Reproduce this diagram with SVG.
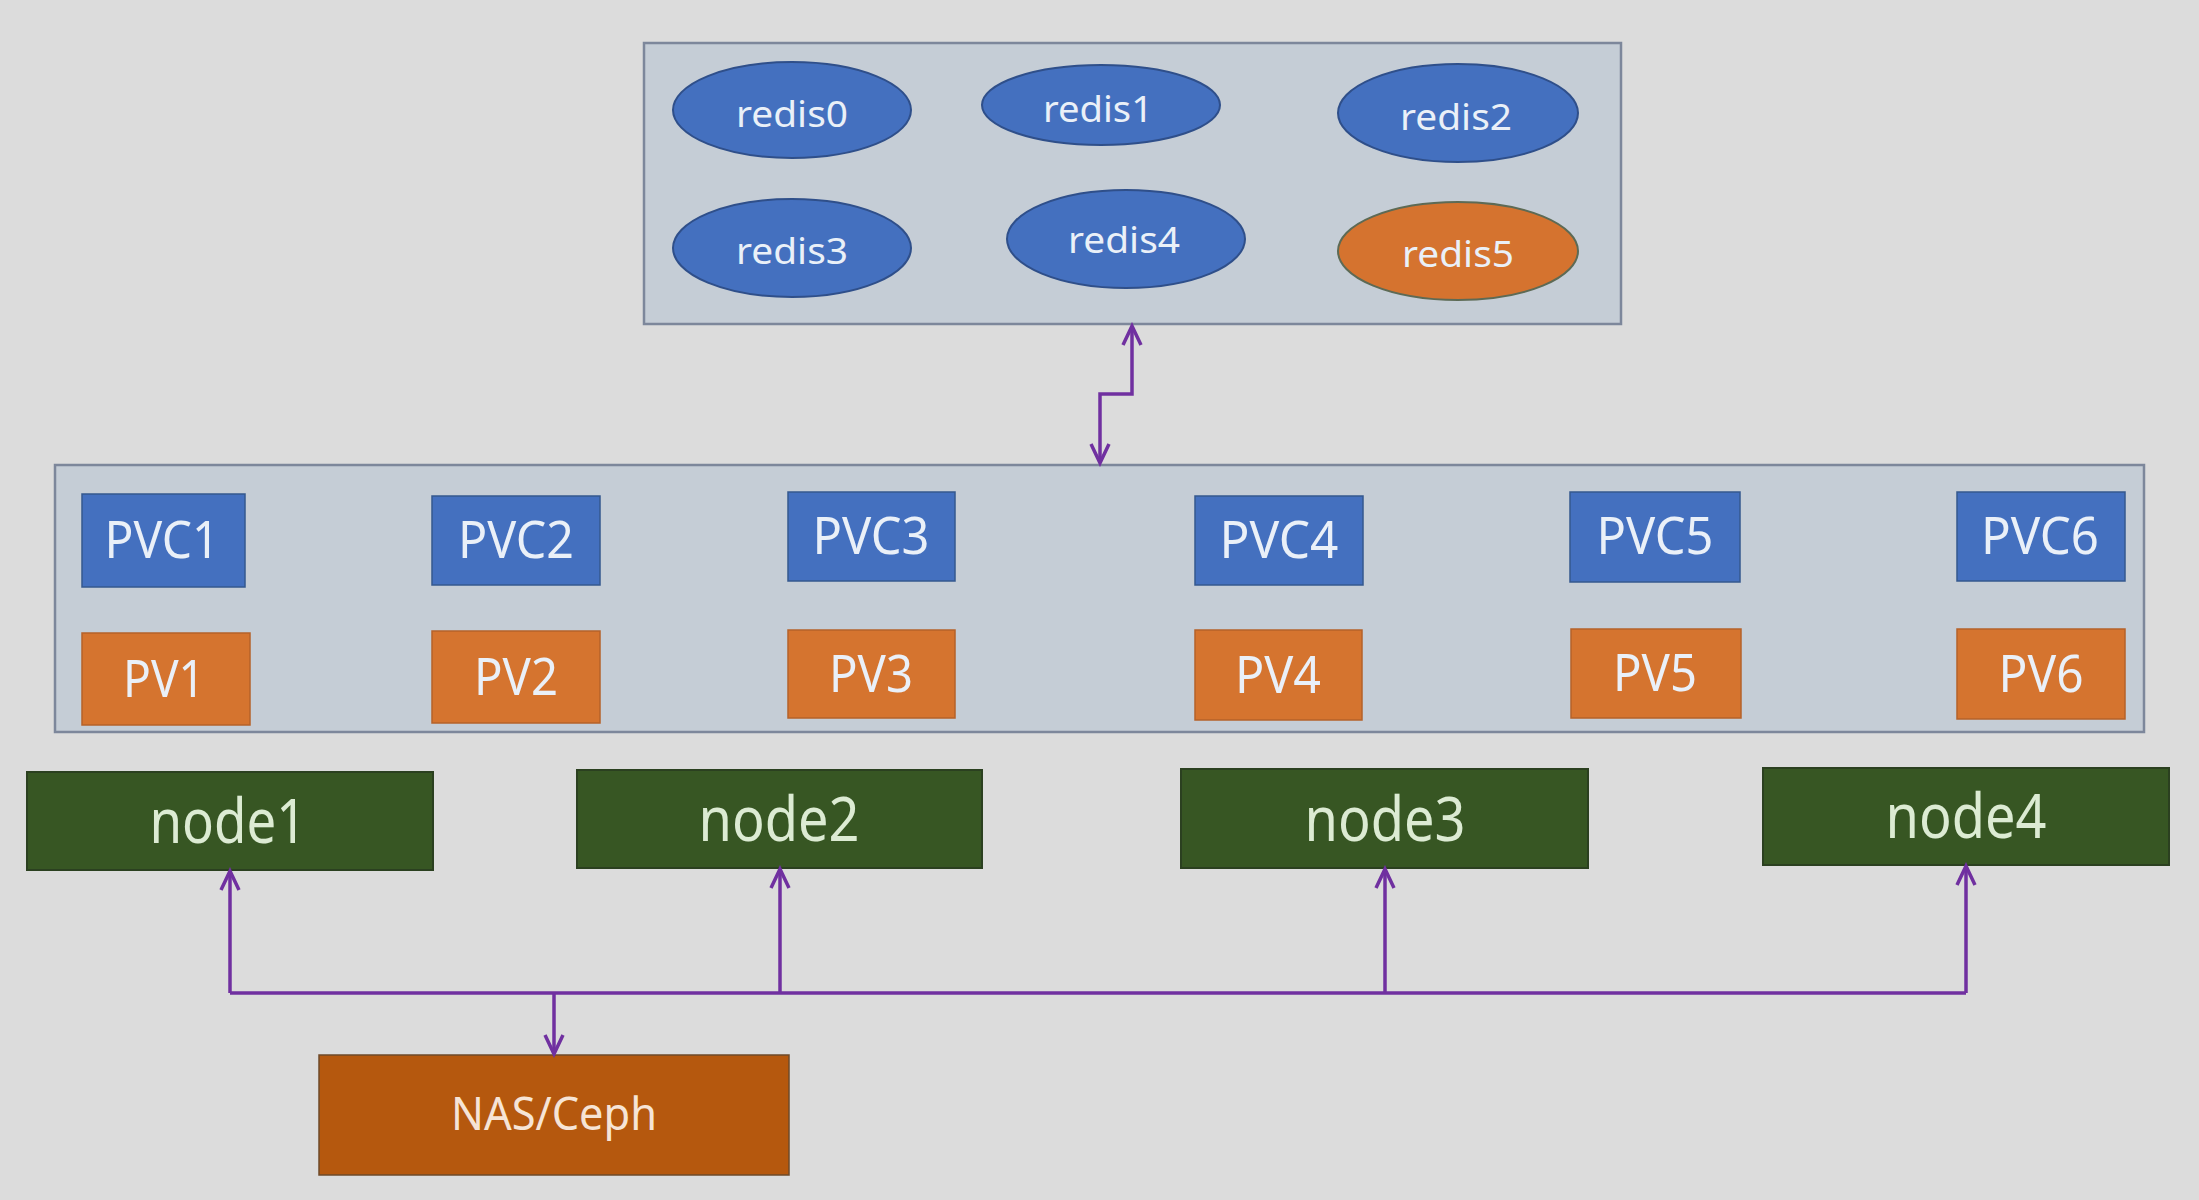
<svg xmlns="http://www.w3.org/2000/svg" width="2199" height="1200" viewBox="0 0 2199 1200">
  <defs>
    <style>
      .bg { fill: #dcdcdc; }
      .panel { fill: #c5cdd6; stroke: #7d879b; stroke-width: 2.5; }
      .redis { fill: #4470bf; stroke: #2f4f8a; stroke-width: 2; }
      .redis-alt { fill: #d5732f; stroke: #5d6a55; stroke-width: 2; }
      .pvc { fill: #4470bf; stroke: #34588f; stroke-width: 1.5; }
      .pv { fill: #d5742f; stroke: #b5622a; stroke-width: 1.5; }
      .node { fill: #375623; stroke: #2b4020; stroke-width: 2; }
      .store { fill: #b5580e; stroke: #6e4a2a; stroke-width: 1.5; }
      .lbl { font-family: "Noto Sans", "Liberation Sans", sans-serif; text-anchor: middle; fill: #eaf0f8; }
      .lbl-redis { font-size: 37px; }
      .lbl-vol { font-size: 51px; }
      .lbl-node { font-size: 62px; fill: #dcebd3; }
      .lbl-store { font-size: 45px; fill: #f6e4d6; }
      .wire { fill: none; stroke: #7030a0; stroke-width: 3.5; stroke-linejoin: miter; }
    </style>
    <marker id="arrow" markerUnits="userSpaceOnUse" markerWidth="26" markerHeight="26" viewBox="0 0 26 26" refX="22" refY="13" orient="auto-start-reverse">
      <path d="M3,4 L22,13 L3,22" fill="none" stroke="#7030a0" stroke-width="3.5"/>
    </marker>
  </defs>

  <rect class="bg" x="0" y="0" width="2199" height="1200"/>

  <!-- Redis pod group -->
  <g id="redis-cluster">
    <rect class="panel" x="644" y="43" width="977" height="281"/>
    <g id="redis0">
      <ellipse class="redis" cx="792" cy="110" rx="119" ry="48"/>
      <text class="lbl lbl-redis" x="792" y="127" textLength="112" lengthAdjust="spacingAndGlyphs">redis0</text>
    </g>
    <g id="redis1">
      <ellipse class="redis" cx="1101" cy="105" rx="119" ry="40"/>
      <text class="lbl lbl-redis" x="1098" y="122" textLength="110" lengthAdjust="spacingAndGlyphs">redis1</text>
    </g>
    <g id="redis2">
      <ellipse class="redis" cx="1458" cy="113" rx="120" ry="49"/>
      <text class="lbl lbl-redis" x="1456" y="130" textLength="112" lengthAdjust="spacingAndGlyphs">redis2</text>
    </g>
    <g id="redis3">
      <ellipse class="redis" cx="792" cy="248" rx="119" ry="49"/>
      <text class="lbl lbl-redis" x="792" y="264" textLength="112" lengthAdjust="spacingAndGlyphs">redis3</text>
    </g>
    <g id="redis4">
      <ellipse class="redis" cx="1126" cy="239" rx="119" ry="49"/>
      <text class="lbl lbl-redis" x="1124" y="253" textLength="112" lengthAdjust="spacingAndGlyphs">redis4</text>
    </g>
    <g id="redis5">
      <ellipse class="redis-alt" cx="1458" cy="251" rx="120" ry="49"/>
      <text class="lbl lbl-redis" x="1458" y="267" textLength="112" lengthAdjust="spacingAndGlyphs">redis5</text>
    </g>
  </g>

  <!-- Claims and volumes -->
  <g id="storage-layer">
    <rect class="panel" x="55" y="465" width="2089" height="267"/>
    <g id="pvc1">
      <rect class="pvc" x="82" y="494" width="163" height="93"/>
      <text class="lbl lbl-vol" x="162" y="558" textLength="115" lengthAdjust="spacingAndGlyphs">PVC1</text>
    </g>
    <g id="pv1">
      <rect class="pv" x="82" y="633" width="168" height="92"/>
      <text class="lbl lbl-vol" x="164" y="697" textLength="82" lengthAdjust="spacingAndGlyphs">PV1</text>
    </g>
    <g id="pvc2">
      <rect class="pvc" x="432" y="496" width="168" height="89"/>
      <text class="lbl lbl-vol" x="516" y="558" textLength="116" lengthAdjust="spacingAndGlyphs">PVC2</text>
    </g>
    <g id="pv2">
      <rect class="pv" x="432" y="631" width="168" height="92"/>
      <text class="lbl lbl-vol" x="516" y="695" textLength="84" lengthAdjust="spacingAndGlyphs">PV2</text>
    </g>
    <g id="pvc3">
      <rect class="pvc" x="788" y="492" width="167" height="89"/>
      <text class="lbl lbl-vol" x="871" y="554" textLength="117" lengthAdjust="spacingAndGlyphs">PVC3</text>
    </g>
    <g id="pv3">
      <rect class="pv" x="788" y="630" width="167" height="88"/>
      <text class="lbl lbl-vol" x="871" y="692" textLength="84" lengthAdjust="spacingAndGlyphs">PV3</text>
    </g>
    <g id="pvc4">
      <rect class="pvc" x="1195" y="496" width="168" height="89"/>
      <text class="lbl lbl-vol" x="1279" y="558" textLength="119" lengthAdjust="spacingAndGlyphs">PVC4</text>
    </g>
    <g id="pv4">
      <rect class="pv" x="1195" y="630" width="167" height="90"/>
      <text class="lbl lbl-vol" x="1278" y="693" textLength="86" lengthAdjust="spacingAndGlyphs">PV4</text>
    </g>
    <g id="pvc5">
      <rect class="pvc" x="1570" y="492" width="170" height="90"/>
      <text class="lbl lbl-vol" x="1655" y="554" textLength="117" lengthAdjust="spacingAndGlyphs">PVC5</text>
    </g>
    <g id="pv5">
      <rect class="pv" x="1571" y="629" width="170" height="89"/>
      <text class="lbl lbl-vol" x="1655" y="691" textLength="84" lengthAdjust="spacingAndGlyphs">PV5</text>
    </g>
    <g id="pvc6">
      <rect class="pvc" x="1957" y="492" width="168" height="89"/>
      <text class="lbl lbl-vol" x="2040" y="554" textLength="118" lengthAdjust="spacingAndGlyphs">PVC6</text>
    </g>
    <g id="pv6">
      <rect class="pv" x="1957" y="629" width="168" height="90"/>
      <text class="lbl lbl-vol" x="2041" y="692" textLength="85" lengthAdjust="spacingAndGlyphs">PV6</text>
    </g>
  </g>

  <!-- Worker nodes -->
  <g id="node1">
    <rect class="node" x="27" y="772" width="406" height="98"/>
    <text class="lbl lbl-node" x="228" y="843" textLength="157" lengthAdjust="spacingAndGlyphs">node1</text>
  </g>
  <g id="node2">
    <rect class="node" x="577" y="770" width="405" height="98"/>
    <text class="lbl lbl-node" x="779" y="841" textLength="161" lengthAdjust="spacingAndGlyphs">node2</text>
  </g>
  <g id="node3">
    <rect class="node" x="1181" y="769" width="407" height="99"/>
    <text class="lbl lbl-node" x="1385" y="841" textLength="161" lengthAdjust="spacingAndGlyphs">node3</text>
  </g>
  <g id="node4">
    <rect class="node" x="1763" y="768" width="406" height="97"/>
    <text class="lbl lbl-node" x="1966" y="838" textLength="161" lengthAdjust="spacingAndGlyphs">node4</text>
  </g>

  <!-- Shared storage backend -->
  <g id="nas-ceph">
    <rect class="store" x="319" y="1055" width="470" height="120"/>
    <text class="lbl lbl-store" x="554" y="1130" textLength="206" lengthAdjust="spacingAndGlyphs">NAS/Ceph</text>
  </g>

  <!-- Connectors -->
  <g id="connectors">
    <path class="wire" d="M1100,463 V394 H1132 V326" marker-start="url(#arrow)" marker-end="url(#arrow)"/>
    <path class="wire" d="M230,993 H1966"/>
    <path class="wire" d="M230,993 V871" marker-end="url(#arrow)"/>
    <path class="wire" d="M780,993 V869" marker-end="url(#arrow)"/>
    <path class="wire" d="M1385,993 V869" marker-end="url(#arrow)"/>
    <path class="wire" d="M1966,993 V866" marker-end="url(#arrow)"/>
    <path class="wire" d="M554,993 V1054" marker-end="url(#arrow)"/>
  </g>
</svg>
